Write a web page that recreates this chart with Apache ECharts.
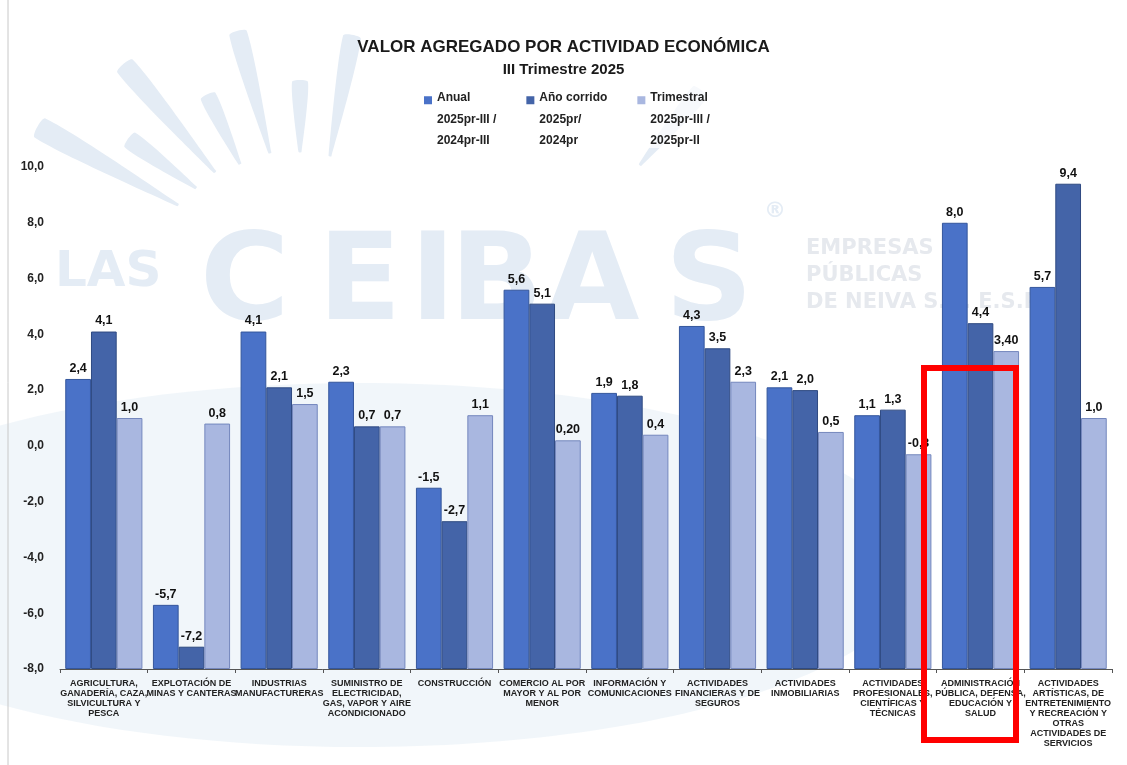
<!DOCTYPE html>
<html>
<head>
<meta charset="utf-8">
<script src="https://cdn.jsdelivr.net/npm/echarts@6/dist/echarts.min.js"></script>
<style>
html,body{margin:0;padding:0;background:#fff;}
#chart{width:1127px;height:765px;}
</style>
</head>
<body>
<div id="chart"></div>
<script>
// ---------- DATA ----------
var categories = [
  "AGRICULTURA,\nGANADERÍA, CAZA,\nSILVICULTURA Y\nPESCA",
  "EXPLOTACIÓN DE\nMINAS Y CANTERAS",
  "INDUSTRIAS\nMANUFACTURERAS",
  "SUMINISTRO DE\nELECTRICIDAD,\nGAS, VAPOR Y AIRE\nACONDICIONADO",
  "CONSTRUCCIÓN",
  "COMERCIO AL POR\nMAYOR Y AL POR\nMENOR",
  "INFORMACIÓN Y\nCOMUNICACIONES",
  "ACTIVIDADES\nFINANCIERAS Y DE\nSEGUROS",
  "ACTIVIDADES\nINMOBILIARIAS",
  "ACTIVIDADES\nPROFESIONALES,\nCIENTÍFICAS Y\nTÉCNICAS",
  "ADMINISTRACIÓN\nPÚBLICA, DEFENSA,\nEDUCACIÓN Y\nSALUD",
  "ACTIVIDADES\nARTÍSTICAS, DE\nENTRETENIMIENTO\nY RECREACIÓN Y\nOTRAS\nACTIVIDADES DE\nSERVICIOS"
];
var seriesNames = [
  "Anual\n2025pr-III /\n2024pr-III",
  "Año corrido\n2025pr/\n2024pr",
  "Trimestral\n2025pr-III /\n2025pr-II"
];
var anual      = [2.4, -5.7, 4.1, 2.3, -1.5, 5.6, 1.9, 4.3, 2.1, 1.1, 8.0, 5.7];
var anioCorrido= [4.1, -7.2, 2.1, 0.7, -2.7, 5.1, 1.8, 3.5, 2.0, 1.3, 4.4, 9.4];
var trimestral = [1.0, 0.8, 1.5, 0.7, 1.1, 0.20, 0.4, 2.3, 0.5, -0.3, 3.40, 1.0];
var anualLabels      = ["2,4","-5,7","4,1","2,3","-1,5","5,6","1,9","4,3","2,1","1,1","8,0","5,7"];
var anioCorridoLabels= ["4,1","-7,2","2,1","0,7","-2,7","5,1","1,8","3,5","2,0","1,3","4,4","9,4"];
var trimestralLabels = ["1,0","0,8","1,5","0,7","1,1","0,20","0,4","2,3","0,5","-0,3","3,40","1,0"];
var Y_MIN = -8, Y_MAX = 10, Y_STEP = 2;   // bars grow from the axis minimum (-8)

// ---------- CHART ----------
var chart = echarts.init(document.getElementById('chart'), null, {renderer:'canvas'});
var wm = '#e4ecf5';

function shifted(arr){ return arr.map(function(v){ return +(v - Y_MIN).toFixed(4); }); }

function ray(x1,y1,x2,y2,w){
  var dx=x2-x1, dy=y2-y1, L=Math.sqrt(dx*dx+dy*dy), nx=-dy/L, ny=dx/L;
  return {type:'polygon', z:-10, silent:true,
    shape:{points:[[x1+nx*w,y1+ny*w],[x2+nx*1.5,y2+ny*1.5],[x2-nx*1.5,y2-ny*1.5],[x1-nx*w,y1-ny*w]], smooth:0.2},
    style:{fill:wm}};
}
function letter(ch, x){
  return {type:'text', z:-10, silent:true, left:x, top:226, style:{text:ch, fill:wm, font:'bold 122px "DejaVu Sans", sans-serif'}};
}

var graphics = [
  {type:'ellipse', z:-11, silent:true, shape:{cx:360, cy:565, rx:560, ry:182}, style:{fill:'rgba(214,228,240,0.35)'}},
  ray(40,128,178,205,11), ray(130,140,196,188,9), ray(125,66,215,172,10), ray(208,96,240,164,8),
  ray(238,33,270,153,9), ray(300,82,300,152,8), ray(352,37,330,156,9),
  ray(700,92,640,165,9),
  {type:'text', z:-10, silent:true, left:55, top:248, style:{text:'LAS', fill:wm, font:'bold 50px "DejaVu Sans", sans-serif'}},
  letter('C',200), letter('E',318), letter('I',410), letter('B',450), letter('A',545), letter('S',665),
  {type:'text', z:-10, silent:true, left:764, top:200, style:{text:'®', fill:wm, font:'bold 22px "DejaVu Sans", sans-serif'}},
  {type:'text', z:-10, silent:true, left:806, top:235, style:{text:'EMPRESAS\nPÚBLICAS\nDE NEIVA S.A. E.S.P.', fill:'#e6e9ee', font:'bold 21px "DejaVu Sans", sans-serif', lineHeight:27}},
  {type:'rect', z:-5, silent:true, shape:{x:420, y:80, width:316, height:68}, style:{fill:'rgba(255,255,255,0.7)'}},
  {type:'line', z:-5, silent:true, shape:{x1:8, y1:0, x2:8, y2:765}, style:{stroke:'#c8c8c8', lineWidth:1}},
  {type:'rect', z:100, silent:true, shape:{x:924, y:368, width:92, height:372}, style:{fill:null, stroke:'#ff0000', lineWidth:6}}
];

var labelStyle = {show:true, position:'top', distance:4, color:'#111', fontWeight:'bold', fontSize:12.5, fontFamily:'"Liberation Sans", Arial, sans-serif'};
function mkSeries(i, data, labels, color, border){
  return {
    name: seriesNames[i], type:'bar', data: shifted(data),
    barGap:'0%', barCategoryGap:'12%',
    itemStyle:{color:color, borderColor:border, borderWidth:1},
    label: Object.assign({}, labelStyle, {formatter:function(p){ return labels[p.dataIndex]; }}),
    emphasis:{disabled:true}
  };
}

var option = {
  backgroundColor:'#ffffff',
  animation:false,
  graphic: graphics,
  title:[
    {text:'VALOR AGREGADO POR ACTIVIDAD ECONÓMICA', left:'center', top:34, textStyle:{fontSize:17, fontWeight:'bold', color:'#1a1a1a', fontFamily:'"Liberation Sans", Arial, sans-serif'}},
    {text:'III Trimestre 2025', left:'center', top:57, textStyle:{fontSize:15, fontWeight:'bold', color:'#1a1a1a', fontFamily:'"Liberation Sans", Arial, sans-serif'}}
  ],
  legend:{
    left:419, top:82, itemWidth:8, itemHeight:46, itemGap:30,
    icon:'path://M0,0L8,0L8,8L0,8Z M0,46L0.01,46L0.01,46.01Z',
    itemStyle:{borderWidth:0},
    textStyle:{fontSize:12, fontWeight:'bold', color:'#222', lineHeight:21.5, fontFamily:'"Liberation Sans", Arial, sans-serif'},
    data: seriesNames
  },
  grid:{left:60, right:15, top:167, bottom:96, containLabel:false},
  xAxis:{
    type:'category', data:categories,
    axisLine:{show:true, lineStyle:{color:'#555', width:1}},
    axisTick:{show:true, alignWithLabel:false, length:4, lineStyle:{color:'#555'}},
    axisLabel:{interval:0, margin:10, color:'#222', fontSize:9, fontWeight:'bold', lineHeight:10,
      fontFamily:'"Liberation Sans Narrow", "Arial Narrow", "Liberation Sans", sans-serif', align:'center'}
  },
  yAxis:{
    type:'value', min:0, max:Y_MAX - Y_MIN, interval:Y_STEP,
    axisLine:{show:false}, axisTick:{show:false}, splitLine:{show:false},
    axisLabel:{margin:16, color:'#222', fontSize:12, fontWeight:'bold', fontFamily:'"Liberation Sans", Arial, sans-serif',
      formatter:function(v){ return (v + Y_MIN).toFixed(1).replace('.', ','); }}
  },
  series:[
    mkSeries(0, anual, anualLabels, '#4a72c8', '#34569c'),
    mkSeries(1, anioCorrido, anioCorridoLabels, '#4464a8', '#2f4a82'),
    mkSeries(2, trimestral, trimestralLabels, '#a9b7e0', '#7487bd')
  ]
};
chart.setOption(option);
</script>
</body>
</html>
